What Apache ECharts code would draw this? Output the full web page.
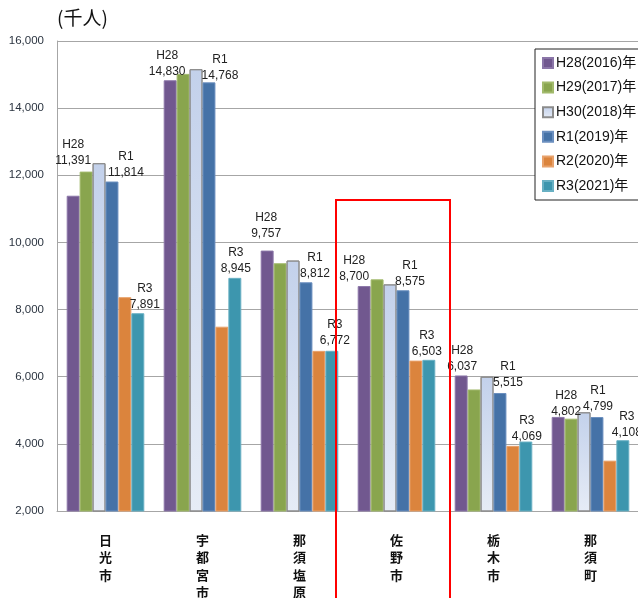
<!DOCTYPE html>
<html>
<head>
<meta charset="utf-8">
<style>
  html, body { margin: 0; padding: 0; background: #fff; }
  #chart { width: 638px; height: 598px; }
</style>
<script src="https://cdn.jsdelivr.net/npm/echarts@6/dist/echarts.min.js"></script>
</head>
<body>
<div id="chart"></div>
<script>
// Visitors per municipality (thousands), by year
const categories = ['日光市', '宇都宮市', '那須塩原市', '佐野市', '栃木市', '那須町'];
const seriesNames = ['H28(2016)年', 'H29(2017)年', 'H30(2018)年', 'R1(2019)年', 'R2(2020)年', 'R3(2021)年'];
const seriesTags = ['H28', 'H29', 'H30', 'R1', 'R2', 'R3'];
const h28 = [11391, 14830, 9757, 8700, 6037, 4802];
const h29 = [12110, 15020, 9380, 8900, 5620, 4750];
const h30 = [12360, 15160, 9460, 8750, 6000, 4940];
const r1  = [11814, 14768, 8812, 8575, 5515, 4799];
const r2  = [8370, 7490, 6770, 6480, 3940, 3500];
const r3  = [7891, 8945, 6772, 6503, 4069, 4108];
const yMin = 2000, yMax = 16000, yStep = 2000;
const unitLabel = '(千人)';
const highlighted = '佐野市';

const values = [h28, h29, h30, r1, r2, r3];
const labelled = { H28: true, R1: true, R3: true };

// label nudges [dx, dy] per labelled series, per category
const labelNudge = {
  H28: [[0, -26], [-3, 0], [-1, -8], [-10, 0], [1, 0], [8, 4]],
  R1:  [[14, 0], [11, 2], [9, 0], [7, 0], [8, -1], [1, -1]],
  R3:  [[7, 0], [1, 0], [3, -1], [-2, 1], [1, 4], [4, 1]]
};

const fills = [
  '#71588F',
  '#89A54E',
  new echarts.graphic.LinearGradient(0, 0, 0, 1, [
    { offset: 0, color: '#c3d1eb' },
    { offset: 1, color: '#e6ecf6' }
  ]),
  '#4572A7',
  '#DB843D',
  '#3D96AE'
];
const edges = ['#8b76a8', '#a2ba6c', '#8c8c8c', '#6b8fbf', '#e8a26c', '#68b0c3'];

const fmt = v => v.toLocaleString('en-US');
const FONT = '"Liberation Sans", "Noto Sans CJK JP", sans-serif';

const series = seriesNames.map((name, si) => {
  const tag = seriesTags[si];
  const data = values[si].map((v, ci) => {
    const item = { value: v };
    if (labelled[tag]) {
      item.label = { offset: labelNudge[tag][ci] };
    }
    return item;
  });
  return {
    name,
    type: 'bar',
    barGap: '0%',
    barCategoryGap: '20%',
    itemStyle: { color: fills[si], borderColor: edges[si], borderWidth: 1 },
    label: {
      show: !!labelled[tag],
      position: 'top',
      distance: 1,
      fontFamily: FONT,
      fontSize: 12,
      lineHeight: 16,
      color: '#222',
      formatter: p => tag + '\n' + fmt(p.value)
    },
    data
  };
});

const unitText = {
  type: 'text',
  left: 57,
  top: 8,
  style: { text: unitLabel, font: '19px "Noto Sans CJK JP", sans-serif', fill: '#111' }
};

const chart = echarts.init(document.getElementById('chart'), null, { renderer: 'canvas' });
chart.setOption({
  animation: false,
  backgroundColor: '#fff',
  textStyle: { fontFamily: FONT },
  grid: { left: 57, top: 41, right: -1, bottom: 87, containLabel: false, outerBoundsMode: 'none' },
  legend: {
    orient: 'vertical',
    left: 535,
    top: 49,
    padding: [7, 8, 7, 7],
    itemWidth: 10,
    itemHeight: 10,
    itemGap: 10.6,
    backgroundColor: '#fff',
    borderColor: '#222',
    borderWidth: 1,
    borderRadius: 0,
    icon: 'rect',
    textStyle: { fontFamily: FONT, fontSize: 14, lineHeight: 14, color: '#111', padding: [0, 0, 0, -2] },
    data: seriesNames
  },
  graphic: [unitText],
  xAxis: {
    type: 'category',
    data: categories,
    axisLine: { show: true, lineStyle: { color: '#a6a6a6', width: 1 } },
    axisTick: { show: false },
    axisLabel: {
      interval: 0,
      margin: 20,
      fontFamily: '"Noto Sans CJK JP", sans-serif',
      fontSize: 13,
      fontWeight: 'bold',
      lineHeight: 17.5,
      color: '#111',
      formatter: v => v.split('').join('\n')
    }
  },
  yAxis: {
    type: 'value',
    min: yMin,
    max: yMax,
    interval: yStep,
    axisLine: { show: true, lineStyle: { color: '#a6a6a6', width: 1 } },
    axisTick: { show: false },
    splitLine: { show: true, lineStyle: { color: '#a6a6a6', width: 1 } },
    axisLabel: {
      margin: 13,
      fontFamily: FONT,
      fontSize: 11.5,
      color: '#2b3440',
      formatter: v => fmt(v)
    }
  },
  series
});

// red frame around the highlighted municipality
const cx = chart.convertToPixel({ xAxisIndex: 0 }, highlighted);
chart.setOption({
  graphic: [
    unitText,
    {
      type: 'rect',
      shape: { x: cx - 60.5, y: 200, width: 114, height: 420 },
      style: { fill: 'none', stroke: '#ff0000', lineWidth: 2 },
      z: 100
    }
  ]
});
</script>
</body>
</html>
